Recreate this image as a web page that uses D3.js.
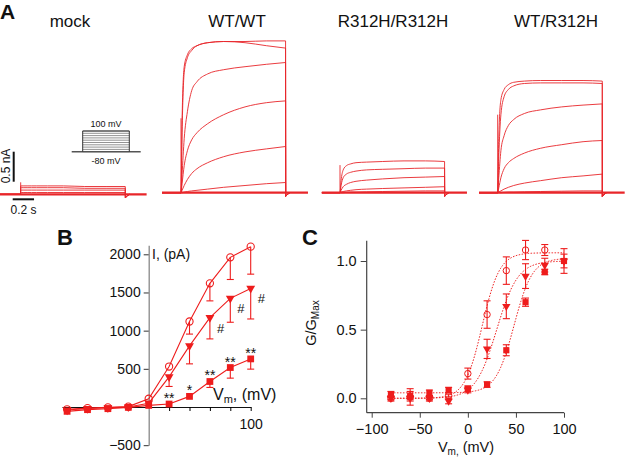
<!DOCTYPE html>
<html><head><meta charset="utf-8">
<script src="https://cdn.jsdelivr.net/npm/d3@7"></script>
<style>
body{margin:0;background:#fff}
svg{display:block}
text{font-family:"Liberation Sans",Arial,Helvetica,sans-serif;fill:#111}
</style>
</head><body>
<svg id="chart" width="625" height="458"></svg>
<script>
// ---------------- DATA ----------------
// Panel A: current traces (nA) sampled at step times (s from step onset)
const panelTitles = ["mock", "WT/WT", "R312H/R312H", "WT/R312H"];
const stepTimes = [0, 0.01, 0.03, 0.06, 0.1, 0.15, 0.25, 0.4, 0.6, 0.8, 0.98];
const mockTraces = [
  [0.14, 0.14, 0.14, 0.14, 0.14, 0.14, 0.14, 0.14, 0.13, 0.13, 0.13],
  [0.11, 0.11, 0.11, 0.11, 0.11, 0.11, 0.11, 0.11, 0.10, 0.10, 0.10],
  [0.07, 0.07, 0.07, 0.07, 0.07, 0.07, 0.07, 0.07, 0.07, 0.07, 0.07],
  [0.03, 0.03, 0.03, 0.03, 0.03, 0.03, 0.03, 0.03, 0.03, 0.03, 0.03]
];
const wtwtTraces = [
  [0, 1.2, 2.1, 2.3, 2.4, 2.45, 2.5, 2.52, 2.52, 2.53, 2.53],
  [0, 1.0, 2.0, 2.25, 2.37, 2.45, 2.5, 2.52, 2.5, 2.45, 2.41],
  [0, 0.3, 0.9, 1.35, 1.7, 1.85, 1.98, 2.05, 2.1, 2.14, 2.17],
  [0, 0.15, 0.45, 0.7, 0.88, 1.0, 1.15, 1.3, 1.43, 1.5, 1.53],
  [0, 0.04, 0.12, 0.22, 0.32, 0.4, 0.5, 0.6, 0.68, 0.73, 0.77],
  [0, 0, 0.01, 0.02, 0.03, 0.04, 0.06, 0.09, 0.12, 0.15, 0.17]
];
const mutmutTraces = [
  [0, 0.2, 0.38, 0.45, 0.48, 0.5, 0.51, 0.52, 0.53, 0.53, 0.52],
  [0, 0.12, 0.25, 0.31, 0.34, 0.36, 0.38, 0.39, 0.4, 0.41, 0.41],
  [0, 0.04, 0.1, 0.14, 0.17, 0.19, 0.21, 0.23, 0.25, 0.26, 0.27],
  [0, 0.01, 0.02, 0.03, 0.04, 0.05, 0.06, 0.07, 0.08, 0.09, 0.1],
  [0, 0, 0, 0.005, 0.01, 0.01, 0.015, 0.02, 0.025, 0.03, 0.03]
];
const wtmutTraces = [
  [0, 0.9, 1.55, 1.72, 1.8, 1.84, 1.86, 1.87, 1.87, 1.87, 1.86],
  [0, 0.6, 1.3, 1.6, 1.72, 1.78, 1.82, 1.83, 1.83, 1.83, 1.82],
  [0, 0.25, 0.7, 0.95, 1.12, 1.22, 1.32, 1.38, 1.43, 1.46, 1.48],
  [0, 0.08, 0.25, 0.4, 0.5, 0.57, 0.66, 0.74, 0.8, 0.85, 0.87],
  [0, 0.01, 0.03, 0.06, 0.09, 0.12, 0.16, 0.2, 0.25, 0.28, 0.31],
  [0, 0, 0, 0.005, 0.01, 0.01, 0.015, 0.02, 0.025, 0.03, 0.03]
];
const onsetSpikes = [0.2, 1.24, 0.46, 1.3];          // capacitive transient (nA)
const protocolVoltages = [-80, -60, -40, -20, 0, 20, 40, 60, 80, 100];
const scaleBarCurrent = 0.5;  // nA
const scaleBarTime = 0.2;     // s

// Panel B: I-V relationship (pA)
const ivVoltages = [-80, -60, -40, -20, 0, 20, 40, 60, 80, 100];
const ivWT = [-30, -15, -5, 5, 108, 530, 1120, 1620, 1960, 2100];
const ivWTErr = [0, 0, 0, 0, 0, 0, 165, 230, 290, 360];
const ivHet = [-40, -20, -10, 0, 50, 395, 800, 1170, 1423, 1553];
const ivHetErr = [0, 0, 0, 0, 0, 126, 235, 278, 313, 400];
const ivMut = [-57, -35, -22, -5, 21, 39, 139, 334, 517, 630];
const ivMutErr = [0, 0, 0, 0, 0, 0, 0, 78, 139, 134];
const ivStars = ["", "", "", "", "", "**", "*", "**", "**", "**"];
const ivHashes = ["", "", "", "", "", "", "", "#", "#", "#"];
const ivYTicks = [-500, 500, 1000, 1500, 2000];
const ivXTicks = [20, 40, 60, 80, 100];

// Panel C: G/Gmax
const gvVoltagesWT = [-80, -60, -40, -20, 0, 20, 40, 60, 80];
const gvWT = [0.0, 0.01, 0.0, 0.02, 0.18, 0.61, 0.93, 1.08, 1.08];
const gvWTErr = [0.01, 0.06, 0.01, 0.01, 0.04, 0.1, 0.1, 0.07, 0.04];
const gvVoltages = [-80, -60, -40, -20, 0, 20, 40, 60, 80, 100];
const gvHet = [0.0, 0.0, 0.0, -0.02, 0.06, 0.36, 0.67, 0.89, 0.97, 1.0];
const gvHetErr = [0.02, 0.02, 0.02, 0.02, 0.02, 0.07, 0.09, 0.09, 0.05, 0.05];
const gvMut = [0.03, 0.02, 0.04, 0.06, 0.07, 0.1, 0.35, 0.7, 0.92, 1.0];
const gvMutErr = [0.02, 0.03, 0.02, 0.02, 0.02, 0.02, 0.04, 0.03, 0.02, 0.09];
// Boltzmann fit parameters [WT, WT/R312H, R312H]
const fitVhalf = [15, 30, 48];
const fitSlope = [9, 11, 9.5];
const fitBottom = [0.0, 0.0, 0.04];
const fitTop = [1.06, 1.0, 1.02];
const gvXTicks = [-100, -50, 0, 50, 100];
const gvYTicks = [0, 0.5, 1.0];

// ---------------- DRAWING ----------------
const red = "#ee1c1c";
const traceRed = "#e8262a";
const svg = d3.select("#chart");

// Panel letters
svg.append("text").attr("x", 0).attr("y", 19).attr("font-size", 21).attr("font-weight", "bold").text("A");
svg.append("text").attr("x", 57).attr("y", 245).attr("font-size", 22).attr("font-weight", "bold").text("B");
svg.append("text").attr("x", 302).attr("y", 245).attr("font-size", 22).attr("font-weight", "bold").text("C");

// ---- Panel A ----
const allTraces = [mockTraces, wtwtTraces, mutmutTraces, wtmutTraces];
const onsetX = [20.7, 181, 340, 497.7];
const baseY = [194.3, 192.7, 192.7, 192.7];
const tStart = [-0.194, -0.178, -0.17, -0.175];
const tEnd = [1.18, 1.19, 1.19, 1.19];
const titleX = [70, 237, 393, 556];
const pxPerS = 106.7, pxPerNA = 60;

allTraces.forEach((traces, p) => {
  const xt = d3.scaleLinear().domain([0, 1]).range([onsetX[p], onsetX[p] + pxPerS]);
  const yi = d3.scaleLinear().domain([0, 1]).range([baseY[p], baseY[p] - pxPerNA]);
  const g = svg.append("g");
  svg.append("text").attr("x", titleX[p]).attr("y", 27).attr("text-anchor", "middle")
     .attr("font-size", 17).text(panelTitles[p]);
  // baseline (thick, overlapping sweeps)
  g.append("line").attr("x1", xt(tStart[p])).attr("x2", xt(tEnd[p]))
   .attr("y1", yi(0)).attr("y2", yi(0)).attr("stroke", traceRed).attr("stroke-width", 2.2);
  // onset transient
  g.append("line").attr("x1", xt(0)).attr("x2", xt(0)).attr("y1", yi(0)).attr("y2", yi(onsetSpikes[p]))
   .attr("stroke", traceRed).attr("stroke-width", 0.9);
  const line = d3.line().x(d => xt(d[0])).y(d => yi(d[1])).curve(d3.curveMonotoneX);
  traces.forEach(tr => {
    const pts = [[tStart[p], 0], [-0.002, 0]];
    stepTimes.forEach((t, i) => pts.push([t, tr[i]]));
    g.append("path").attr("d", line(pts)).attr("fill", "none")
     .attr("stroke", traceRed).attr("stroke-width", 0.9);
    // offset drop and tail
    g.append("path").attr("d", d3.line().x(d => xt(d[0])).y(d => yi(d[1]))([
      [0.98, tr[tr.length - 1]], [0.981, -0.06], [0.995, -0.03], [1.02, 0]
    ])).attr("fill", "none").attr("stroke", traceRed).attr("stroke-width", 0.9);
  });
});

// Scale bars
const xsb = d3.scaleLinear().domain([0, 1]).range([12.7, 12.7 + pxPerS]);
const ysb = d3.scaleLinear().domain([0, 1]).range([181.7, 181.7 - pxPerNA]);
svg.append("line").attr("x1", 13.7).attr("x2", 13.7).attr("y1", ysb(0)).attr("y2", ysb(scaleBarCurrent))
   .attr("stroke", "#111").attr("stroke-width", 2);
svg.append("line").attr("x1", xsb(0)).attr("x2", xsb(scaleBarTime)).attr("y1", 199.3).attr("y2", 199.3)
   .attr("stroke", "#111").attr("stroke-width", 2);
svg.append("text").attr("transform", "translate(10,166) rotate(-90)").attr("text-anchor", "middle")
   .attr("font-size", 12).text("0.5 nA");
svg.append("text").attr("x", 23.5).attr("y", 214).attr("text-anchor", "middle")
   .attr("font-size", 12).text("0.2 s");

// Voltage protocol inset
const yp = d3.scaleLinear().domain([-80, 100]).range([151.7, 131]);
const gp = svg.append("g");
protocolVoltages.forEach(v => {
  gp.append("line").attr("x1", 82.7).attr("x2", 129.3).attr("y1", yp(v)).attr("y2", yp(v))
    .attr("stroke", "#777").attr("stroke-width", 0.8);
});
gp.append("line").attr("x1", 71.7).attr("x2", 140.7).attr("y1", yp(-80)).attr("y2", yp(-80))
  .attr("stroke", "#555").attr("stroke-width", 1.5);
[82.7, 129.3].forEach(x => gp.append("line").attr("x1", x).attr("x2", x)
  .attr("y1", yp(-80)).attr("y2", yp(100)).attr("stroke", "#333").attr("stroke-width", 1));
gp.append("line").attr("x1", 82.7).attr("x2", 129.3).attr("y1", yp(100)).attr("y2", yp(100))
  .attr("stroke", "#333").attr("stroke-width", 1);
gp.append("text").attr("x", 106).attr("y", 127).attr("text-anchor", "middle").attr("font-size", 9).text("100 mV");
gp.append("text").attr("x", 106).attr("y", 164).attr("text-anchor", "middle").attr("font-size", 9).text("-80 mV");

// ---- Panel B ----
const xB = d3.scaleLinear().domain([0, 100]).range([148.7, 250.7]);
const yB = d3.scaleLinear().domain([0, 2000]).range([407, 254.3]);
const gB = svg.append("g");
// y axis
const yAxisB = d3.axisLeft(yB.copy().domain([-500, 2120]).range([yB(-500), yB(2120)]))
  .tickValues(ivYTicks).tickSize(5).tickSizeOuter(0).tickPadding(3).tickFormat(d3.format("d"));
const gyB = gB.append("g").attr("transform", `translate(${xB(0)},0)`).call(yAxisB);
gyB.select(".domain").attr("stroke", "#888").attr("stroke-width", 1.3);
gyB.selectAll(".tick line").attr("stroke", "#333");
gyB.selectAll("text").attr("font-size", 14).attr("fill", "#111").attr("font-family", "Liberation Sans, Arial, sans-serif");
// x axis
const xAxisB = d3.axisBottom(xB.copy().domain([-85, 100]).range([xB(-85), xB(100)]))
  .tickValues(ivXTicks).tickSize(4).tickSizeOuter(0).tickPadding(8)
  .tickFormat(d => d === 100 ? "100" : "");
const gxB = gB.append("g").attr("transform", `translate(0,${yB(0)})`).call(xAxisB);
gxB.select(".domain").attr("stroke", "#111").attr("stroke-width", 1.2);
gxB.selectAll("text").attr("font-size", 14).attr("fill", "#111").attr("font-family", "Liberation Sans, Arial, sans-serif");
gB.append("text").attr("x", 152).attr("y", 259).attr("font-size", 14).text("I, (pA)");
const vlab = gB.append("text").attr("x", 213).attr("y", 400).attr("font-size", 16);
vlab.append("tspan").text("V");
vlab.append("tspan").attr("font-size", 11).attr("dy", 3).text("m");
vlab.append("tspan").attr("dy", -3).text(", (mV)");

const lineB = d3.line().x((d, i) => xB(ivVoltages[i])).y(d => yB(d));
function errDown(g, vals, errs, xs, x, y) {
  vals.forEach((v, i) => {
    if (!errs[i]) return;
    const cx = x(xs[i]);
    g.append("line").attr("x1", cx).attr("x2", cx).attr("y1", y(v)).attr("y2", y(v - errs[i]))
      .attr("stroke", red).attr("stroke-width", 1.1);
    g.append("line").attr("x1", cx - 3.5).attr("x2", cx + 3.5).attr("y1", y(v - errs[i])).attr("y2", y(v - errs[i]))
      .attr("stroke", red).attr("stroke-width", 1.1);
  });
}
[ivWT, ivHet, ivMut].forEach(s => {
  gB.append("path").attr("d", lineB(s)).attr("fill", "none").attr("stroke", red).attr("stroke-width", 1.1);
});
errDown(gB, ivWT, ivWTErr, ivVoltages, xB, yB);
errDown(gB, ivHet, ivHetErr, ivVoltages, xB, yB);
errDown(gB, ivMut, ivMutErr, ivVoltages, xB, yB);
ivWT.forEach((v, i) => gB.append("circle").attr("cx", xB(ivVoltages[i])).attr("cy", yB(v)).attr("r", 3.6)
  .attr("fill", "#fff").attr("fill-opacity", 0).attr("stroke", red).attr("stroke-width", 1.1));
const triB = d3.symbol().type(d3.symbolTriangle).size(34);
ivHet.forEach((v, i) => gB.append("path").attr("d", triB())
  .attr("transform", `translate(${xB(ivVoltages[i])},${yB(v)}) rotate(180)`).attr("fill", red));
const sqB = d3.symbol().type(d3.symbolSquare).size(46);
ivMut.forEach((v, i) => gB.append("path").attr("d", sqB())
  .attr("transform", `translate(${xB(ivVoltages[i])},${yB(v)})`).attr("fill", red));
ivStars.forEach((s, i) => {
  if (!s) return;
  gB.append("text").attr("x", xB(ivVoltages[i])).attr("y", yB(ivMut[i]) - 1).attr("text-anchor", "middle")
    .attr("font-size", 14).text(s);
});
ivHashes.forEach((s, i) => {
  if (!s) return;
  gB.append("text").attr("x", xB(ivVoltages[i]) + 7).attr("y", yB(ivHet[i]) + 15)
    .attr("font-size", 13).text(s);
});

// ---- Panel C ----
const xC = d3.scaleLinear().domain([-100, 100]).range([371.7, 564]);
const yC = d3.scaleLinear().domain([0, 1]).range([398.3, 261]);
const gC = svg.append("g");
gC.append("line").attr("x1", 366.7).attr("x2", 366.7).attr("y1", 240.7).attr("y2", 412.7)
  .attr("stroke", "#444").attr("stroke-width", 1.2);
gC.append("line").attr("x1", 366.7).attr("x2", 564).attr("y1", 412.7).attr("y2", 412.7)
  .attr("stroke", "#444").attr("stroke-width", 1.2);
const xAxisC = d3.axisBottom(xC).tickValues(gvXTicks).tickSize(5).tickSizeOuter(0).tickPadding(6).tickFormat(d3.format("d"));
const gxC = gC.append("g").attr("transform", "translate(0,412.7)").call(xAxisC);
gxC.select(".domain").remove();
gxC.selectAll(".tick line").attr("stroke", "#444");
gxC.selectAll("text").attr("font-size", 14.5).attr("fill", "#111").attr("font-family", "Liberation Sans, Arial, sans-serif");
const yAxisC = d3.axisLeft(yC).tickValues(gvYTicks).tickSize(6).tickSizeOuter(0).tickPadding(4).tickFormat(d3.format(".1f"));
const gyC = gC.append("g").attr("transform", "translate(366.7,0)").call(yAxisC);
gyC.select(".domain").remove();
gyC.selectAll(".tick line").attr("stroke", "#444");
gyC.selectAll("text").attr("font-size", 14.5).attr("fill", "#111").attr("font-family", "Liberation Sans, Arial, sans-serif");
const xlabC = gC.append("text").attr("x", 466).attr("y", 452).attr("text-anchor", "middle").attr("font-size", 14.5);
xlabC.append("tspan").text("V");
xlabC.append("tspan").attr("font-size", 10).attr("dy", 3).text("m,");
xlabC.append("tspan").attr("dy", -3).text(" (mV)");
const ylabC = gC.append("text").attr("transform", "translate(316,323) rotate(-90)").attr("text-anchor", "middle").attr("font-size", 14.5);
ylabC.append("tspan").text("G/G");
ylabC.append("tspan").attr("font-size", 10).attr("dy", 3).text("Max");

// fit curves
const fitV = d3.range(-80, 100.5, 1);
const fitLine = d3.line().x(d => xC(d[0])).y(d => yC(d[1]));
[0, 1, 2].forEach(k => {
  const pts = fitV.map(v => [v, fitBottom[k] + (fitTop[k] - fitBottom[k]) / (1 + Math.exp((fitVhalf[k] - v) / fitSlope[k]))]);
  gC.append("path").attr("d", fitLine(pts)).attr("fill", "none").attr("stroke", red)
    .attr("stroke-width", 1).attr("stroke-dasharray", "1.5,1.5");
});
function errBoth(g, vals, errs, xs) {
  vals.forEach((v, i) => {
    const cx = xC(xs[i]);
    g.append("line").attr("x1", cx).attr("x2", cx).attr("y1", yC(v + errs[i])).attr("y2", yC(v - errs[i]))
      .attr("stroke", red).attr("stroke-width", 1.1);
    [v + errs[i], v - errs[i]].forEach(e => g.append("line").attr("x1", cx - 3.5).attr("x2", cx + 3.5)
      .attr("y1", yC(e)).attr("y2", yC(e)).attr("stroke", red).attr("stroke-width", 1.1));
  });
}
errBoth(gC, gvWT, gvWTErr, gvVoltagesWT);
errBoth(gC, gvHet, gvHetErr, gvVoltages);
errBoth(gC, gvMut, gvMutErr, gvVoltages);
gvWT.forEach((v, i) => gC.append("circle").attr("cx", xC(gvVoltagesWT[i])).attr("cy", yC(v)).attr("r", 3.2)
  .attr("fill", "none").attr("stroke", red).attr("stroke-width", 1));
const triC = d3.symbol().type(d3.symbolTriangle).size(30);
gvHet.forEach((v, i) => gC.append("path").attr("d", triC())
  .attr("transform", `translate(${xC(gvVoltages[i])},${yC(v)}) rotate(180)`).attr("fill", red));
const sqC = d3.symbol().type(d3.symbolSquare).size(38);
gvMut.forEach((v, i) => gC.append("path").attr("d", sqC())
  .attr("transform", `translate(${xC(gvVoltages[i])},${yC(v)})`).attr("fill", red));
</script>
</body></html>
